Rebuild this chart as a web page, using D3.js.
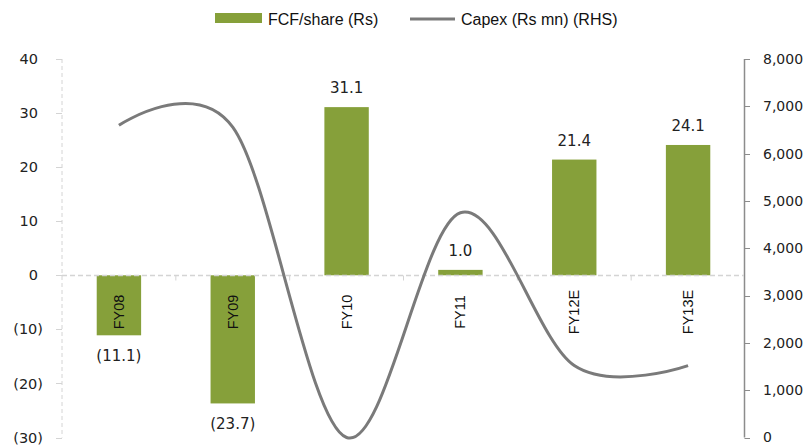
<!DOCTYPE html>
<html>
<head>
<meta charset="utf-8">
<script src="https://cdn.jsdelivr.net/npm/d3@7"></script>
<style>
  body { margin: 0; background: #fff; }
  svg { display: block; }
  .tick-l, .tick-r, .dlabel { font-family: "DejaVu Sans", Verdana, sans-serif; fill: #222; }
  .cat { font-family: "Liberation Sans", Arial, sans-serif; fill: #111; }
  .legend { font-family: "Liberation Sans Narrow", "Liberation Sans", sans-serif; fill: #111; }
</style>
</head>
<body>
<svg id="chart" width="810" height="447"></svg>
<script>
// chart data
var categories = ["FY08", "FY09", "FY10", "FY11", "FY12E", "FY13E"];
var fcfPerShare = [-11.1, -23.7, 31.1, 1.0, 21.4, 24.1];
var capex = [6600, 6560, 0, 4750, 1520, 1520];
var leftTicks = [40, 30, 20, 10, 0, -10, -20, -30];
var rightTicks = [0, 1000, 2000, 3000, 4000, 5000, 6000, 7000, 8000];

var WIDTH = 810, HEIGHT = 447;
var MARGINS = { left: 62, right: 65, top: 59, bottom: 9 };

var svg = d3.select("#chart");

var xRange = d3.scaleBand()
    .domain(categories)
    .range([MARGINS.left, WIDTH - MARGINS.right])
    .paddingInner(0.61)
    .paddingOuter(0.305);

var yLeft = d3.scaleLinear().domain([-30, 40]).range([HEIGHT - MARGINS.bottom - 0.5, MARGINS.top]);
var yRight = d3.scaleLinear().domain([0, 8000]).range([HEIGHT - MARGINS.bottom - 0.5, MARGINS.top]);

var gridColor = "#d4d4d4";

// left axis (dashed light line)
svg.append("line")
    .attr("x1", MARGINS.left).attr("x2", MARGINS.left)
    .attr("y1", yLeft(40)).attr("y2", yLeft(-30))
    .attr("stroke", gridColor).attr("stroke-dasharray", "4,3");

var lt = svg.append("g").attr("class", "yaxis-left");
lt.selectAll("line").data(leftTicks).enter().append("line")
    .attr("x1", MARGINS.left - 6).attr("x2", MARGINS.left)
    .attr("y1", function (d) { return Math.round(yLeft(d)) + 0.5; })
    .attr("y2", function (d) { return Math.round(yLeft(d)) + 0.5; })
    .attr("stroke", gridColor);
lt.selectAll("text").data(leftTicks).enter().append("text")
    .attr("class", "tick-l")
    .attr("text-anchor", "end")
    .attr("x", function (d) { return d < 0 ? 43 : 38; })
    .attr("y", function (d) { return yLeft(d); })
    .attr("dy", "0.35em")
    .style("font-size", "14.5px")
    .text(function (d) { return d < 0 ? "(" + Math.abs(d) + ")" : d; });

// right axis
svg.append("line")
    .attr("x1", 744.5).attr("x2", 744.5)
    .attr("y1", yRight(8000)).attr("y2", yRight(0))
    .attr("stroke", "#8c8c8c").attr("stroke-width", 1.5);
var rt = svg.append("g").attr("class", "yaxis-right");
rt.selectAll("line").data(rightTicks).enter().append("line")
    .attr("x1", 744.5).attr("x2", 750)
    .attr("y1", function (d) { return Math.round(yRight(d)) + 0.5; })
    .attr("y2", function (d) { return Math.round(yRight(d)) + 0.5; })
    .attr("stroke", "#8c8c8c");
rt.selectAll("text").data(rightTicks).enter().append("text")
    .attr("class", "tick-r")
    .attr("x", 763)
    .attr("y", function (d) { return yRight(d); })
    .attr("dy", "0.35em")
    .style("font-size", "14px")
    .text(function (d) { return d3.format(",")(d); });

// bars
svg.append("g").selectAll("rect").data(fcfPerShare).enter().append("rect")
    .attr("x", function (d, i) { return xRange(categories[i]); })
    .attr("width", xRange.bandwidth())
    .attr("y", function (d) { return yLeft(Math.max(0, d)); })
    .attr("height", function (d) { return Math.abs(yLeft(d) - yLeft(0)); })
    .attr("fill", "#86a03a");

// zero line with category ticks
var y0 = Math.round(yLeft(0)) + 0.5;
svg.append("line")
    .attr("x1", MARGINS.left).attr("x2", 744)
    .attr("y1", y0).attr("y2", y0)
    .attr("stroke", gridColor).attr("stroke-width", 1.5).attr("stroke-dasharray", "5,3");
var step = xRange.step();
svg.append("g").selectAll("line").data(d3.range(1, categories.length)).enter().append("line")
    .attr("x1", function (k) { return MARGINS.left + step * k; })
    .attr("x2", function (k) { return MARGINS.left + step * k; })
    .attr("y1", y0).attr("y2", y0 + 5)
    .attr("stroke", gridColor);

// category labels (rotated)
svg.append("g").selectAll("text").data(categories).enter().append("text")
    .attr("class", "cat")
    .attr("text-anchor", "middle")
    .attr("transform", function (d) {
        return "translate(" + (xRange(d) + xRange.bandwidth() / 2) + "," + 312 + ") rotate(-90)";
    })
    .attr("dy", "0.35em")
    .style("font-size", "14.5px")
    .text(function (d) { return d; });

// bar value labels
svg.append("g").selectAll("text").data(fcfPerShare).enter().append("text")
    .attr("class", "dlabel")
    .attr("text-anchor", "middle")
    .attr("x", function (d, i) { return xRange(categories[i]) + xRange.bandwidth() / 2; })
    .attr("y", function (d) { return d >= 0 ? yLeft(d) - 19 : yLeft(d) + 20; })
    .attr("dy", "0.35em")
    .style("font-size", "15px")
    .text(function (d) { return d < 0 ? "(" + Math.abs(d).toFixed(1) + ")" : d.toFixed(1); });

// capex line (smoothed), clipped to plot area
svg.append("defs").append("clipPath").attr("id", "clip")
    .append("rect").attr("x", 0).attr("y", 0).attr("width", WIDTH).attr("height", 441);

var lineFunc = d3.line()
    .x(function (d, i) { return xRange(categories[i]) + xRange.bandwidth() / 2; })
    .y(function (d) { return yRight(d); })
    .curve(d3.curveCardinal.tension(0));

svg.append("path")
    .datum(capex)
    .attr("clip-path", "url(#clip)")
    .attr("d", lineFunc)
    .attr("fill", "none")
    .attr("stroke", "#7a7a7a")
    .attr("stroke-width", 3);

// legend
var lg = svg.append("g").attr("class", "legend-g");
lg.append("rect").attr("x", 215).attr("y", 13).attr("width", 47).attr("height", 10).attr("fill", "#86a03a");
lg.append("text").attr("class", "legend").attr("x", 268).attr("y", 23).attr("dy", "0.1em")
    .style("font-size", "16px").text("FCF/share (Rs)");
lg.append("line").attr("x1", 410).attr("x2", 455).attr("y1", 19).attr("y2", 19)
    .attr("stroke", "#7a7a7a").attr("stroke-width", 3);
lg.append("text").attr("class", "legend").attr("x", 461).attr("y", 23).attr("dy", "0.1em")
    .style("font-size", "16px").text("Capex (Rs mn) (RHS)");
</script>
</body>
</html>
